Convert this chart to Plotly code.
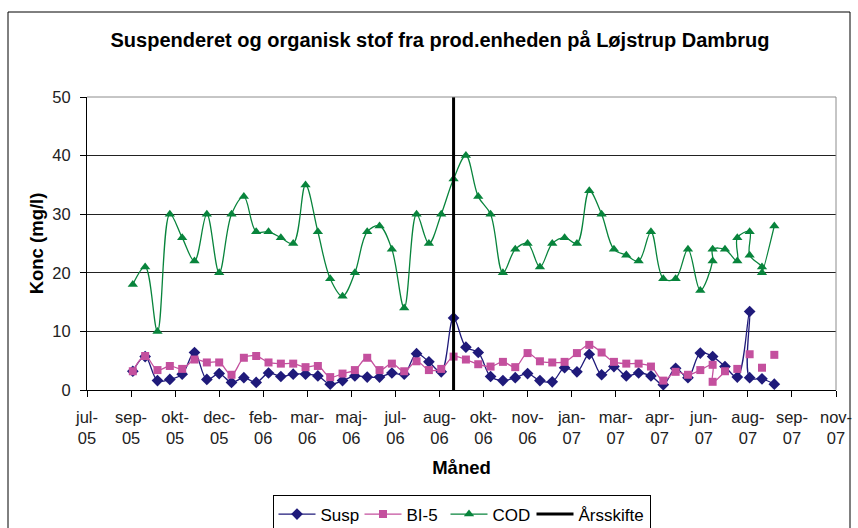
import plotly.graph_objects as go

# ---------------- data ----------------
title_text = "Suspenderet og organisk stof fra prod.enheden på Løjstrup Dambrug"

tick_dates = ["2005-07-17", "2005-09-05", "2005-10-25", "2005-12-14", "2006-02-02",
              "2006-03-24", "2006-05-13", "2006-07-02", "2006-08-21", "2006-10-10",
              "2006-11-29", "2007-01-18", "2007-03-09", "2007-04-28", "2007-06-17",
              "2007-08-06", "2007-09-25", "2007-11-14"]
tick_labels = ["jul-<br>05", "sep-<br>05", "okt-<br>05", "dec-<br>05", "feb-<br>06",
               "mar-<br>06", "maj-<br>06", "jul-<br>06", "aug-<br>06", "okt-<br>06",
               "nov-<br>06", "jan-<br>07", "mar-<br>07", "apr-<br>07", "jun-<br>07",
               "aug-<br>07", "sep-<br>07", "nov-<br>07"]

base_dates = ["2005-09-07", "2005-09-21", "2005-10-05", "2005-10-19", "2005-11-02",
              "2005-11-16", "2005-11-30", "2005-12-14", "2005-12-28", "2006-01-11",
              "2006-01-25", "2006-02-08", "2006-02-22", "2006-03-08", "2006-03-22",
              "2006-04-05", "2006-04-19", "2006-05-03", "2006-05-17", "2006-05-31",
              "2006-06-14", "2006-06-28", "2006-07-12", "2006-07-26", "2006-08-09",
              "2006-08-23", "2006-09-06", "2006-09-20", "2006-10-04", "2006-10-18",
              "2006-11-01", "2006-11-15", "2006-11-29", "2006-12-13", "2006-12-27",
              "2007-01-10", "2007-01-24", "2007-02-07", "2007-02-21", "2007-03-07",
              "2007-03-21", "2007-04-04", "2007-04-18", "2007-05-02", "2007-05-16",
              "2007-05-30", "2007-06-13"]

# Susp
susp_dates = base_dates + ["2007-06-27", "2007-07-11", "2007-07-25", "2007-08-08",
                           "2007-08-08", "2007-08-22", "2007-09-05"]
susp_values = [3.2, 5.7, 1.6, 1.8, 2.7, 6.4, 1.8, 2.8, 1.3, 2.1,
               1.3, 2.9, 2.3, 2.7, 2.7, 2.4, 1.0, 1.6, 2.4, 2.2,
               2.2, 2.9, 2.7, 6.2, 4.8, 3.1, 12.3, 7.3, 6.4, 2.3,
               1.6, 2.1, 2.8, 1.6, 1.4, 3.8, 3.1, 6.1, 2.6, 4.0,
               2.4, 2.9, 2.4, 0.9, 3.7, 2.1, 6.3,
               5.7, 4.0, 2.2, 13.4, 2.1, 1.9, 1.0]

# BI-5 (None = empty cell -> gap in line)
bi5_dates = base_dates + ["2007-06-27", "2007-06-27", "2007-07-11", "2007-07-18",
                          "2007-07-25", "2007-08-01", "2007-08-08", "2007-08-15",
                          "2007-08-22", "2007-08-29", "2007-09-05"]
bi5_values = [3.2, 5.8, 3.4, 4.1, 3.6, 5.2, 4.7, 4.7, 2.6, 5.5,
              5.8, 4.7, 4.5, 4.5, 3.9, 4.1, 2.2, 2.8, 3.4, 5.5,
              3.4, 4.5, 3.2, 4.9, 3.4, 3.6, 5.7, 5.2, 4.4, 4.0,
              4.8, 3.9, 6.3, 4.9, 4.7, 4.8, 6.3, 7.7, 6.4, 4.8,
              4.5, 4.5, 4.0, 1.6, 3.1, 2.6, 3.4,
              4.3, 1.4, 3.2, None, 3.6, None, 6.1, None, 3.8, None, 6.0]

# COD
cod_dates = base_dates + ["2007-06-27", "2007-06-27", "2007-07-11", "2007-07-25",
                          "2007-07-25", "2007-08-08", "2007-08-08", "2007-08-22",
                          "2007-08-22", "2007-09-05"]
cod_values = [18, 21, 10, 30, 26, 22, 30, 20, 30, 33,
              27, 27, 26, 25, 35, 27, 19, 16, 20, 27,
              28, 24, 14, 30, 25, 30, 36, 40, 33, 30,
              20, 24, 25, 21, 25, 26, 25, 34, 30, 24,
              23, 22, 27, 19, 19, 24, 17,
              22, 24, 24, 22, 26, 27, 23, 21, 20, 28]

# Årsskifte (year change marker)
aars_dates = ["2006-09-06", "2006-09-06"]
aars_values = [0, 50]

x_range = ["2005-07-17", "2007-11-14"]
y_ticks = [0, 10, 20, 30, 40, 50]

# ---------------- figure ----------------
FONT = "Liberation Sans, Arial, sans-serif"
SM = 1.0
LW = 34
fig = go.Figure()

fig.add_trace(go.Scatter(
    x=susp_dates, y=susp_values, name="Susp", mode="lines+markers", legendwidth=LW,
    line=dict(color="#1F1A7A", width=1.3, shape="spline", smoothing=SM),
    marker=dict(symbol="diamond", size=9, color="#1F1A7A")))
fig.add_trace(go.Scatter(
    x=bi5_dates, y=bi5_values, name="BI-5", mode="lines+markers", connectgaps=False,
    legendwidth=LW,
    line=dict(color="#C4509E", width=1.3, shape="spline", smoothing=SM),
    marker=dict(symbol="square", size=8, color="#C4509E")))
fig.add_trace(go.Scatter(
    x=cod_dates, y=cod_values, name="COD", mode="lines+markers", legendwidth=LW,
    line=dict(color="#08843C", width=1.3, shape="spline", smoothing=SM),
    marker=dict(symbol="triangle-up", size=9, color="#08843C")))
fig.add_trace(go.Scatter(
    x=aars_dates, y=aars_values, name="Årsskifte", mode="lines",
    line=dict(color="#000000", width=3)))

fig.update_layout(
    width=858, height=528,
    margin=dict(l=87, r=22, t=97, b=138, autoexpand=False),
    paper_bgcolor="white", plot_bgcolor="white",
    font=dict(family=FONT, size=16.5, color="#000"),
    title=dict(text=title_text, x=440 / 858, xref="container", xanchor="center",
               y=1 - 40 / 528, yref="container", yanchor="middle",
               font=dict(family=FONT, size=20, color="#000", weight="bold")),
    showlegend=True,
    legend=dict(orientation="h", x=0.5, xanchor="center", y=-0.36, yanchor="top",
                bordercolor="#000", borderwidth=1, bgcolor="white",
                font=dict(family=FONT, size=17, color="#000"),
                itemwidth=37, tracegroupgap=0),
    xaxis=dict(type="date", range=x_range, tickmode="array",
               tickvals=tick_dates, ticktext=tick_labels,
               showgrid=False, zeroline=False, showline=True, linecolor="#000",
               linewidth=1, ticks="outside", ticklen=6, tickcolor="#000",
               ticklabelstandoff=6,
               tickfont=dict(family=FONT, size=16.5, color="#222"),
               title=dict(text="Måned", standoff=14,
                          font=dict(family=FONT, size=18.5, color="#000", weight="bold"))),
    yaxis=dict(range=[0, 50], tickmode="array", tickvals=y_ticks,
               showgrid=True, gridcolor="#222", gridwidth=1, zeroline=False,
               showline=True, linecolor="#000", linewidth=1, ticks="outside",
               ticklen=6, tickcolor="#000", ticklabelstandoff=6,
               tickfont=dict(family=FONT, size=16.5, color="#222"),
               title=dict(text="Konc (mg/l)", standoff=3,
                          font=dict(family=FONT, size=18.5, color="#000", weight="bold"))),
    shapes=[
        dict(type="line", xref="paper", yref="paper", x0=0, x1=1, y0=1, y1=1,
             line=dict(color="#8c8c8c", width=1), layer="above"),
        dict(type="line", xref="paper", yref="paper", x0=1, x1=1, y0=0, y1=1,
             line=dict(color="#8c8c8c", width=1), layer="above"),
        dict(type="rect", xref="paper", yref="paper",
             x0=(8 - 87) / 749, x1=(850 - 87) / 749,
             y0=(390 - 540) / 293, y1=(390 - 12) / 293,
             line=dict(color="#000", width=1), fillcolor="rgba(0,0,0,0)", layer="below"),
    ],
)

fig.write_html(
    "out.html",
    config={"displayModeBar": False},
    post_script="document.body.style.margin='0px';document.body.style.overflow='hidden';",
)
